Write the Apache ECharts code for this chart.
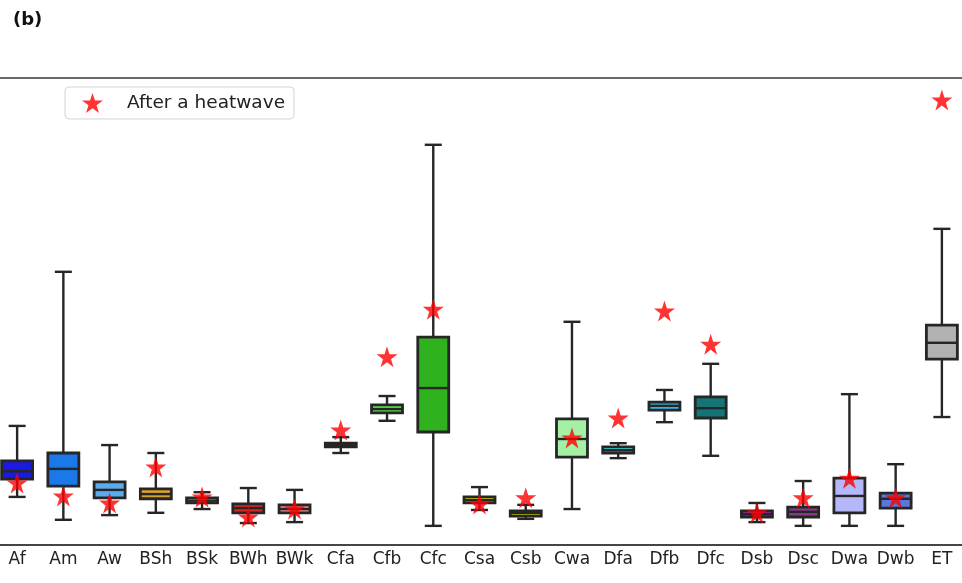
<!DOCTYPE html>
<html>
<head>
<meta charset="utf-8">
<script src="https://cdn.jsdelivr.net/npm/echarts@6/dist/echarts.min.js"></script>
<style>
html,body{margin:0;padding:0;background:#fff;}
#chart{width:962px;height:583px;}
</style>
</head>
<body>
<div id="chart"></div>
<script>
const categories = ['Af','Am','Aw','BSh','BSk','BWh','BWk','Cfa','Cfb','Cfc','Csa','Csb','Cwa','Dfa','Dfb','Dfc','Dsb','Dsc','Dwa','Dwb','ET'];
const whiskerLow  = [10.3, 5.4, 6.4, 6.9, 7.7, 4.7, 4.9, 19.7, 26.6, 4.1, 7.5, 5.6, 7.7, 18.6, 26.3, 19.1, 4.9, 4.1, 4.1, 4.1, 27.4];
const q1          = [14.1,12.6,10.1, 9.9, 9.0, 6.9, 6.9, 21.0, 28.3,24.2, 9.0, 6.2,18.8, 19.7, 28.9, 27.2, 6.0, 6.0, 6.9, 7.9, 39.8];
const median      = [15.8,16.3,11.8,10.9, 9.5, 7.9, 7.7, 21.4, 29.1,33.6, 9.6, 6.9,22.7, 20.3, 29.8, 29.3, 6.6, 7.1,10.5, 9.9, 43.3];
const q3          = [18.0,19.7,13.5,12.0,10.1, 8.8, 8.6, 21.8, 30.0,44.5,10.3, 7.3,27.0, 21.0, 30.6, 31.7, 7.3, 8.1,14.3,11.1, 47.1];
const whiskerHigh = [25.5,58.5,21.4,19.7,11.3,12.2,11.8, 23.1, 31.9,85.7,12.4, 8.6,47.8, 21.8, 33.2, 38.8, 9.0,13.7,32.3,17.3, 67.7];
const afterHeatwave = [13.3,10.5, 9.0,16.7,10.3, 6.0, 7.7, 24.6, 40.3,50.5, 8.8,10.1,22.9, 27.2, 50.1, 43.0, 6.9,10.1,14.3,10.1, 95.3];
const boxColors = ['#1a1ae0','#1a78e8','#5aaaf0','#d9a12a','#e8d070','#d42a2a','#e88a8a','#b0e050','#5ae048','#2fb21e','#d8d800','#b8b800','#a4f0a4','#30e0e0','#38b8e8','#137575','#b020b0','#8a3a8a','#b4b8f8','#5a78dc','#b2b2b2'];

const boxData = categories.map((c, i) => [i, whiskerLow[i], q1[i], median[i], q3[i], whiskerHigh[i]]);
const starData = categories.map((c, i) => [i, afterHeatwave[i]]);

const starPath = 'path://M50,0 L61.2,34.5 L97.6,34.5 L68.2,55.9 L79.4,90.5 L50,69.1 L20.6,90.5 L31.8,55.9 L2.4,34.5 L38.8,34.5 Z';
const edge = '#262626';

const chart = echarts.init(document.getElementById('chart'));
chart.setOption({
  animation: false,
  backgroundColor: '#fff',
  title: {
    text: '(b)', left: 13, top: 11, padding: 0,
    textStyle: {fontFamily: 'DejaVu Sans', fontSize: 18, fontWeight: 'bold', color: '#111'}
  },
  legend: {
    data: ['After a heatwave'],
    left: 65, top: 87,
    padding: [6, 9, 6, 17],
    itemWidth: 21, itemHeight: 21,
    borderColor: '#d4d4d4', borderWidth: 1, borderRadius: 4,
    backgroundColor: '#fff',
    textStyle: {fontFamily: 'DejaVu Sans', fontSize: 18.5, color: '#222', padding: [0, 0, 0, 19]}
  },
  grid: {left: -6, right: -3, top: 78, bottom: 38, show: true, borderColor: '#3a3a3a', borderWidth: 1.5, outerBoundsMode: 'none', containLabel: false},
  xAxis: {
    type: 'category', data: categories,
    axisLine: {lineStyle: {color: '#3a3a3a', width: 1.5}},
    axisTick: {alignWithLabel: true, length: 6, lineStyle: {color: '#3a3a3a', width: 1.2}},
    axisLabel: {fontFamily: 'DejaVu Sans', fontSize: 17, color: '#222', margin: 6, interval: 0},
    splitLine: {show: false}
  },
  yAxis: {
    type: 'value', min: 0, max: 100, show: false, splitLine: {show: false}
  },
  series: [
    {
      type: 'custom',
      name: 'box',
      data: boxData,
      z: 2,
      renderItem: function (params, api) {
        const idx = api.value(0);
        const bw = api.size([1, 0])[0] * 0.335;
        const cw = 8.5;
        const pLow = api.coord([idx, api.value(1)]);
        const pQ1 = api.coord([idx, api.value(2)]);
        const pMed = api.coord([idx, api.value(3)]);
        const pQ3 = api.coord([idx, api.value(4)]);
        const pHigh = api.coord([idx, api.value(5)]);
        const x = pQ1[0];
        const ls = {stroke: edge, lineWidth: 2.4};
        return {
          type: 'group',
          children: [
            {type: 'line', shape: {x1: x, y1: pQ3[1], x2: x, y2: pHigh[1]}, style: ls},
            {type: 'line', shape: {x1: x, y1: pQ1[1], x2: x, y2: pLow[1]}, style: ls},
            {type: 'line', shape: {x1: x - cw, y1: pHigh[1], x2: x + cw, y2: pHigh[1]}, style: ls},
            {type: 'line', shape: {x1: x - cw, y1: pLow[1], x2: x + cw, y2: pLow[1]}, style: ls},
            {type: 'rect', shape: {x: x - bw, y: pQ3[1], width: 2 * bw, height: pQ1[1] - pQ3[1]},
              style: {fill: boxColors[idx], stroke: edge, lineWidth: 2.8}},
            {type: 'line', shape: {x1: x - bw, y1: pMed[1], x2: x + bw, y2: pMed[1]}, style: {stroke: edge, lineWidth: 2.4}}
          ]
        };
      }
    },
    {
      type: 'scatter',
      name: 'After a heatwave',
      data: starData,
      symbol: starPath,
      symbolSize: 21,
      itemStyle: {color: '#ff0000'},
      z: 5
    }
  ]
});
</script>
</body>
</html>
